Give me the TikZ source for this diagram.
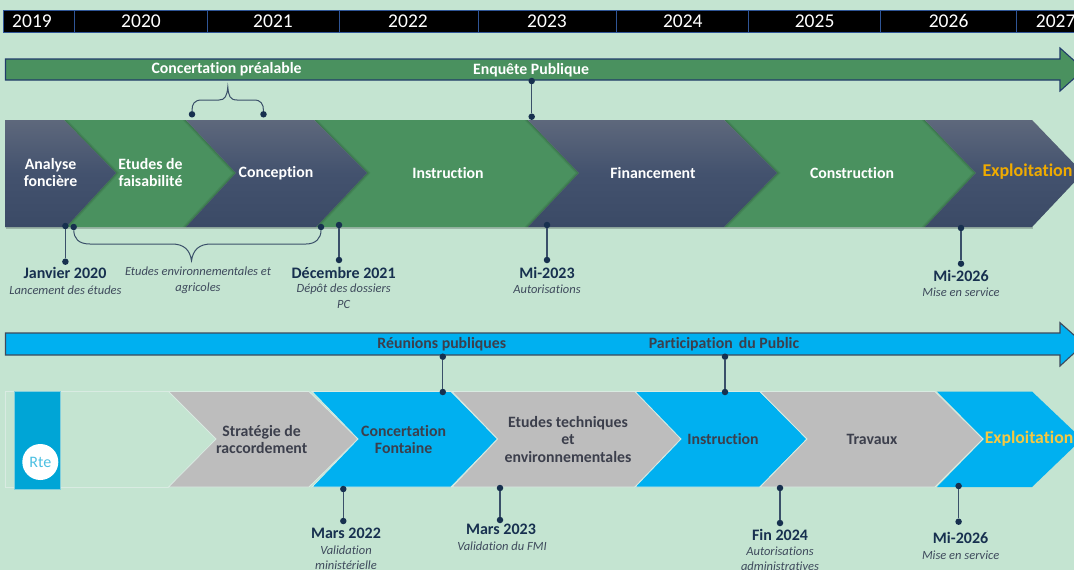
\documentclass[tikz,border=0pt]{standalone}
\usepackage{fontspec}
\setmainfont[Ligatures=NoCommon]{Carlito}
\definecolor{bgc}{HTML}{C4E4D1}
\definecolor{grn}{HTML}{4A915F}
\definecolor{navyt}{HTML}{5E687C}
\definecolor{navym}{HTML}{43526E}
\definecolor{navyb}{HTML}{3B4A66}
\definecolor{sky}{HTML}{00B0F0}
\definecolor{rteb}{HTML}{00A5D6}
\definecolor{greyc}{HTML}{BDBDBD}
\definecolor{inkd}{HTML}{17304F}
\definecolor{inks}{HTML}{3E4A5C}
\definecolor{inkg}{HTML}{3C3F4C}
\definecolor{yearl}{HTML}{2F5597}
\definecolor{gold}{HTML}{F0AB00}
\definecolor{yel}{HTML}{F5C842}
\definecolor{edge}{HTML}{D9EBE2}
\tikzset{
  lbl/.style={inner sep=0pt,align=center,font=\fontsize{15.8}{17.3}\selectfont\bfseries},
  whitelbl/.style={lbl,text=white},
  darklbl/.style={lbl,text=inkg},
  yearlbl/.style={inner sep=0pt,text=white,text height=12.4pt,text depth=0pt,font=\fontsize{19.5}{20}\selectfont},
  datelbl/.style={inner sep=0pt,align=center,text=inkd,font=\fontsize{16}{17}\selectfont\bfseries},
  notelbl/.style={inner sep=0pt,align=center,text=inks,font=\fontsize{12.5}{15.6}\selectfont\itshape},
  dot/.style={circle,fill=inkd,draw=none,minimum size=6.5pt,inner sep=0pt},
  conn/.style={draw=inkd!85!white,line width=1.2pt},
  bracepath/.style={draw=inkd!85!white,line width=1pt},
  greenchev/.style={fill=grn},
  navychev/.style={top color=navyt,bottom color=navyb,middle color=navym},
  softshadow/.style={preaction={draw=black,opacity=.07,line width=5pt},preaction={draw=black,opacity=.10,line width=2.5pt}},
  skychev/.style={fill=sky,draw=edge,line width=.8pt},
  greychev/.style={fill=greyc,draw=edge,line width=.8pt},
  bararrow/.style={line width=1.1pt,line join=miter}
}
\begin{document}
\begin{tikzpicture}[x=1pt,y=-1pt]
\useasboundingbox (0,0) rectangle (1074,570);
\clip (0,0) rectangle (1074,570);
\fill[bgc] (0,0) rectangle (1074,570);
% years
\fill[black,draw=yearl,line width=1pt] (3.5,10.5) rectangle (1090,32.5);
\foreach \sx in {74.7,207,339,478,616.6,748.5,880.8,1016}
  \draw[yearl,line width=1pt] (\sx,10.5) -- (\sx,32.5);
\foreach \yx/\yt/\yn in {32/2019/ya,141/2020/yb,273/2021/yc,408/2022/yd,547/2023/ye,682.8/2024/yf,814.6/2025/yg,948.6/2026/yh,1055.7/2027/yi}
  \node[yearlbl] (\yn) at (\yx,21.5) {\yt};
% top arrow
\draw[bararrow,fill=grn,draw=yearl!70!black] (5.5,59) -- (1060,59) -- (1060,48) -- (1084,69.5) -- (1060,91) -- (1060,80) -- (5.5,80) -- cycle;
\node[whitelbl] (cp) at (226.6,69) {Concertation préalable};
\node[whitelbl] (ep) at (531,70) {Enquête Publique};
% top band
\fill[black,opacity=.2] (6,122) rectangle (1033,229);
\begin{scope}
\clip (5,120) -- (1032,120) -- (1083,173) -- (1032,227) -- (5,227) -- cycle;
\fill[greenchev] (64,120) -- (186,120) -- (236,173) -- (186,227) -- (66,227) -- (116,173) -- cycle;
\fill[greenchev] (314,120) -- (528,120) -- (579,173) -- (528,227) -- (316,227) -- (367,173) -- cycle;
\fill[greenchev] (724,120) -- (925,120) -- (976,173) -- (925,227) -- (724,227) -- (777,173) -- cycle;
\path[navychev,softshadow] (5,120) -- (64,120) -- (116,173) -- (66,227) -- (5,227) -- cycle;
\path[navychev,softshadow] (186,120) -- (314,120) -- (367,173) -- (316,227) -- (186,227) -- (236,173) -- cycle;
\path[navychev,softshadow] (528,120) -- (724,120) -- (777,173) -- (724,227) -- (528,227) -- (579,173) -- cycle;
\path[navychev,softshadow] (925,120) -- (1032,120) -- (1083,173) -- (1032,227) -- (925,227) -- (976,173) -- cycle;
\end{scope}
\node[whitelbl] (t1) at (50.6,172.7) {Analyse\\foncière};
\node[whitelbl] (t2) at (150.5,172.7) {Etudes de\\faisabilité};
\node[whitelbl] (t3) at (276,172.7) {Conception};
\node[whitelbl] (t4) at (448,172.7) {Instruction};
\node[whitelbl] (t5) at (653,172.7) {Financement};
\node[whitelbl] (t6) at (852,172.7) {Construction};
\node[lbl,text=gold,font=\fontsize{18}{18}\selectfont\bfseries] (t7) at (1027.5,172) {Exploitation};
% top connectors
\node[dot] (a1) at (531.7,81) {};
\node[dot] (a2) at (531.7,116.7) {};
\draw[conn] (a1) -- (a2);
\node[dot] (b1) at (192,114.3) {};
\node[dot] (b2) at (263.5,114.3) {};
\draw[bracepath] (b1) .. controls (192,104) and (194,100) .. (202,100) -- (219,100) .. controls (225,100) and (227,96) .. (227.8,87) .. controls (228.6,96) and (230,100) .. (237,100) -- (254,100) .. controls (261,100) and (263.5,104) .. (b2);
\node[dot] (c1) at (65.4,226) {};
\node[dot] (c2) at (65.4,261.7) {};
\draw[conn] (c1) -- (c2);
\node[dot] (d1) at (73.7,227) {};
\node[dot] (d2) at (321,227) {};
\draw[bracepath] (d1) .. controls (74,238) and (78,244) .. (90,244) -- (172,244) .. controls (184,244) and (190,250) .. (191.5,260.7) .. controls (193,250) and (199,244) .. (211,244) -- (306,244) .. controls (316,244) and (321,238) .. (d2);
\node[dot] (e1) at (339,225) {};
\node[dot] (e2) at (339,260) {};
\draw[conn] (e1) -- (e2);
\node[dot] (f1) at (547,225) {};
\node[dot] (f2) at (547,260) {};
\draw[conn] (f1) -- (f2);
\node[dot] (g1) at (961,228) {};
\node[dot] (g2) at (961,263.7) {};
\draw[conn] (g1) -- (g2);
% top dates
\node[datelbl] (j1) at (65,273) {Janvier 2020};
\node[notelbl] (j2) at (65.4,290) {Lancement des études};
\node[notelbl] (j3) at (198,280) {Etudes environnementales et\\agricoles};
\node[datelbl] (j4) at (343.7,272.5) {Décembre 2021};
\node[notelbl] (j5) at (343.7,296.5) {Dépôt des dossiers\\PC};
\node[datelbl] (j6) at (547,272.5) {Mi-2023};
\node[notelbl] (j7) at (547,289) {Autorisations};
\node[datelbl] (j8) at (961,275.7) {Mi-2026};
\node[notelbl] (j9) at (961,292) {Mise en service};
% bottom arrow
\draw[bararrow,fill=sky,draw=inks] (5.5,333) -- (1060,333) -- (1060,322.7) -- (1084,344) -- (1060,366) -- (1060,355) -- (5.5,355) -- cycle;
\node[darklbl] (rp) at (441.8,344) {Réunions publiques};
\node[darklbl] (pp) at (724,344) {Participation\, du Public};
% bottom band
\draw[edge,line width=.8pt] (5,391.5) -- (168.5,391.5) (5,391.5) -- (5,487) -- (168.5,487);
\fill[rteb,draw=edge!60!rteb,line width=.5pt] (14.5,391.7) rectangle (60,489);
\node[circle,fill=white,minimum size=36pt,inner sep=0pt,text=rteb!70!white,font=\fontsize{16}{16}\selectfont] (rte) at (40.3,462) {Rte};
\path[greychev] (168.5,391.5) -- (309,391.5) -- (358,439) -- (309,487) -- (168.5,487) -- (216,439) -- cycle;
\path[skychev] (312,391.5) -- (451,391.5) -- (497.6,439) -- (451,487) -- (312,487) -- (358,439) -- cycle;
\path[greychev] (452,391.5) -- (635,391.5) -- (681,439) -- (635,487) -- (452,487) -- (497.6,439) -- cycle;
\path[skychev] (635,391.5) -- (760,391.5) -- (807,439) -- (760,487) -- (635,487) -- (681,439) -- cycle;
\path[greychev] (760,391.5) -- (935,391.5) -- (983,439) -- (935,487) -- (760,487) -- (807,439) -- cycle;
\path[skychev,draw=none] (937,391.5) -- (1032,391.5) -- (1082,439) -- (1032,487) -- (937,487) -- (984,439) -- cycle;
\node[darklbl] (s1) at (261.7,439.3) {Stratégie de\\raccordement};
\node[darklbl] (s2) at (403.6,439.3) {Concertation\\Fontaine};
\node[darklbl] (s3) at (568,439.3) {Etudes techniques\\et\\environnementales};
\node[darklbl] (s4) at (723,439) {Instruction};
\node[darklbl] (s5) at (872,439) {Travaux};
\node[lbl,text=yel,font=\fontsize{17.7}{18}\selectfont\bfseries] (s6) at (1029,439) {Exploitation};
% bottom connectors
\node[dot] (h1) at (442.8,356.7) {};
\node[dot] (h2) at (442.8,392) {};
\draw[conn] (h1) -- (h2);
\node[dot] (i1) at (725,356.7) {};
\node[dot] (i2) at (725,392) {};
\draw[conn] (i1) -- (i2);
\node[dot] (k1) at (343.3,489) {};
\node[dot] (k2) at (343.3,521) {};
\draw[conn] (k1) -- (k2);
\node[dot] (l1) at (500,488) {};
\node[dot] (l2) at (500,520) {};
\draw[conn] (l1) -- (l2);
\node[dot] (m1) at (780,488) {};
\node[dot] (m2) at (780,523) {};
\draw[conn] (m1) -- (m2);
\node[dot] (n1) at (958.6,486) {};
\node[dot] (n2) at (958.6,521.7) {};
\draw[conn] (n1) -- (n2);
% bottom dates
\node[datelbl] (q1) at (346,533.7) {Mars 2022};
\node[notelbl] (q2) at (346,557.8) {Validation\\ministérielle};
\node[datelbl] (q3) at (501,529.7) {Mars 2023};
\node[notelbl] (q4) at (502,546) {Validation du FMI};
\node[datelbl] (q5) at (780,535) {Fin 2024};
\node[notelbl] (q6) at (780,558.8) {Autorisations\\administratives};
\node[datelbl] (q7) at (960.6,538) {Mi-2026};
\node[notelbl] (q8) at (960.6,555) {Mise en service};
\end{tikzpicture}
\end{document}
